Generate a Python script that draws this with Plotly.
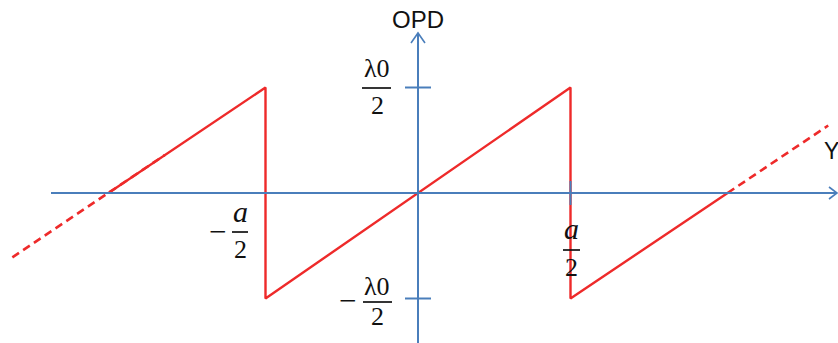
import plotly.graph_objects as go

# Sawtooth OPD(Y): period a, amplitude lambda0/2.
# X in units of a/2, OPD in units of lambda0/2.
saw_x = [-2.03, -1.0, -1.0, 1.0, 1.0, 2.03]
saw_opd = [0.0, 1.0, -1.0, 1.0, -1.0, 0.0]

# Dashed continuation beyond the drawn periods
ext_left_x = [-2.66, -1.66]
ext_left_opd = [-0.61, 0.36]
ext_right_x = [2.03, 2.69]
ext_right_opd = [0.0, 0.64]

# Tick positions (a/2 and lambda0/2)
x_ticks = [1.0]
y_ticks = [1.0, -1.0]

W, H = 838, 343
X0_PX, Y0_PX = 418, 193          # origin in pixels
SX, SY = 152.5, 105.5            # pixels per unit

RED = "#ee2a2a"
BLUE = "#4a7ebb"
INK = "#111111"


def px(x):
    return x / W


def py(y):
    return 1 - y / H


fig = go.Figure()

fig.add_trace(go.Scatter(x=saw_x, y=saw_opd, mode="lines",
                         line=dict(color=RED, width=2.4), hoverinfo="skip"))
for xs, ys in [(ext_left_x, ext_left_opd), (ext_right_x, ext_right_opd)]:
    fig.add_trace(go.Scatter(x=xs, y=ys, mode="lines",
                             line=dict(color=RED, width=2.6, dash="8px,5px"),
                             hoverinfo="skip"))

shapes = []
# Axes lines
shapes.append(dict(type="line", xref="paper", yref="paper",
                   x0=px(51), x1=px(836), y0=py(Y0_PX), y1=py(Y0_PX),
                   line=dict(color=BLUE, width=2)))
shapes.append(dict(type="line", xref="paper", yref="paper",
                   x0=px(X0_PX), x1=px(X0_PX), y0=py(343), y1=py(33),
                   line=dict(color=BLUE, width=2)))
# Arrowheads (open)
shapes.append(dict(type="path", xref="paper", yref="paper",
                   path=f"M {px(829)},{py(187)} L {px(837)},{py(193)} L {px(829)},{py(199)}",
                   line=dict(color=BLUE, width=1.6)))
shapes.append(dict(type="path", xref="paper", yref="paper",
                   path=f"M {px(411)},{py(43)} L {px(418)},{py(33)} L {px(425)},{py(43)}",
                   line=dict(color=BLUE, width=1.6)))
# Ticks on OPD axis
for t in y_ticks:
    shapes.append(dict(type="line", xref="x", yref="y", xsizemode="pixel",
                       xanchor=0, x0=-13, x1=13, y0=t, y1=t,
                       line=dict(color=BLUE, width=2)))
# Ticks on Y axis
for t in x_ticks:
    shapes.append(dict(type="line", xref="x", yref="y", ysizemode="pixel",
                       yanchor=0, y0=-12, y1=12, x0=t, x1=t,
                       line=dict(color=BLUE, width=2)))

# Fraction bars
for x0, x1, y in [(362, 391, 88), (363, 392, 302), (232, 248, 232), (563, 580, 250)]:
    shapes.append(dict(type="line", xref="paper", yref="paper",
                       x0=px(x0), x1=px(x1), y0=py(y), y1=py(y),
                       line=dict(color=INK, width=1.7)))

ann = []


def txt(s, x, y, size=26, family="Liberation Serif", xanchor="center"):
    ann.append(dict(text=s, xref="paper", yref="paper", x=px(x), y=py(y),
                    xanchor=xanchor, yanchor="middle", showarrow=False,
                    font=dict(family=family, size=size, color=INK)))


txt("OPD", 418, 20, size=24, family="Liberation Sans")
txt("Y", 822, 151, size=23, family="Liberation Sans", xanchor="left")

# lambda0/2
txt("λ0", 377, 68)
txt("2", 377, 105)
# -lambda0/2
txt("−", 347, 300, size=31)
txt("λ0", 377, 286)
txt("2", 377, 316)
# -a/2
txt("−", 217, 232, size=31)
txt("<i>a</i>", 240, 211, size=30)
txt("2", 240, 249)
# a/2
txt("<i>a</i>", 571, 228, size=30)
txt("2", 571, 267)

fig.update_layout(
    width=W, height=H,
    margin=dict(l=0, r=0, t=0, b=0),
    paper_bgcolor="white", plot_bgcolor="white",
    showlegend=False,
    xaxis=dict(range=[-X0_PX / SX, (W - X0_PX) / SX], visible=False, fixedrange=True),
    yaxis=dict(range=[(Y0_PX - H) / SY, Y0_PX / SY], visible=False, fixedrange=True),
    shapes=shapes,
    annotations=ann,
)

fig.write_html("out.html")
